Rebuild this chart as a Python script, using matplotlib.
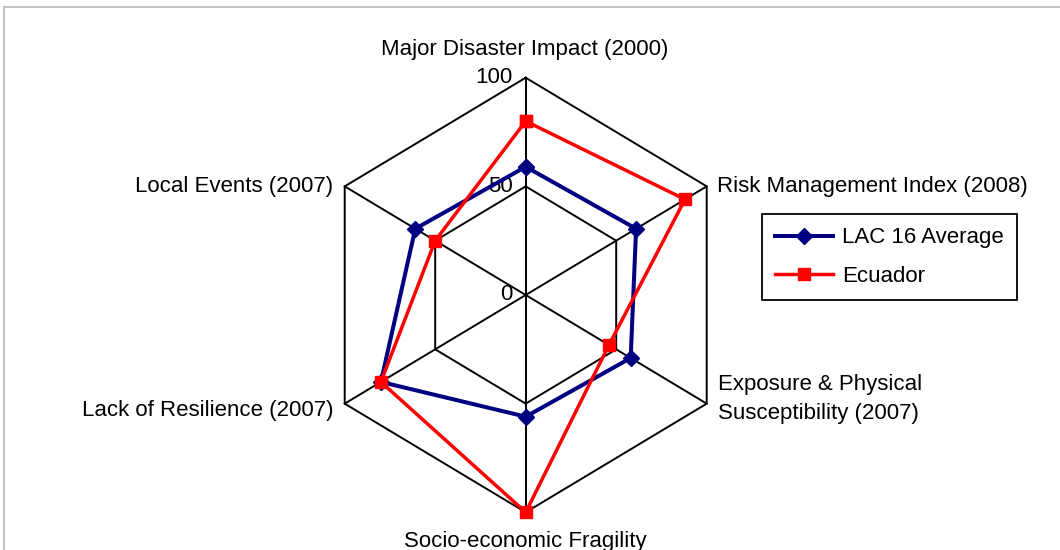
import numpy as np
import matplotlib
matplotlib.use("Agg")
import matplotlib.pyplot as plt
from matplotlib.patches import Rectangle

plt.rcParams['font.family'] = ['Liberation Sans', 'DejaVu Sans']

categories = ["Major Disaster Impact (2000)", "Risk Management Index (2008)",
              "Exposure & Physical\nSusceptibility (2007)", "Socio-economic Fragility",
              "Lack of Resilience (2007)", "Local Events (2007)"]
lac_avg = [59, 61, 58, 56, 80, 61]
ecuador = [80, 88, 46, 100, 80, 50]
ring_levels = [0, 50, 100]
ring_labels = ["0", "50", "100"]
series_names = ["LAC 16 Average", "Ecuador"]

W, H = 1060, 550
fig = plt.figure(figsize=(W / 100, H / 100), dpi=100)
ax = fig.add_axes([0, 0, 1, 1])
ax.set_axis_off()

cx, cy = 525.7, 295.0          # center in pixels (from top)
kx, ky = 2.090, 2.173          # pixels per unit
ax.set_xlim(-cx / kx, (W - cx) / kx)
ax.set_ylim(-(H - cy) / ky, cy / ky)

def px(x, y):
    return (x - cx) / kx, (cy - y) / ky

n = len(categories)
theta = np.arange(n) * 2 * np.pi / n

def to_xy(vals):
    v = np.asarray(vals, dtype=float)
    return v * np.sin(theta), v * np.cos(theta)

# grid
rmax = ring_levels[-1]
for lvl in ring_levels[1:]:
    gx, gy = to_xy([lvl] * n)
    ax.plot(np.append(gx, gx[0]), np.append(gy, gy[0]), color='black', lw=1.4, zorder=1)
for t in theta:
    ax.plot([0, rmax * np.sin(t)], [0, rmax * np.cos(t)], color='black', lw=1.4, zorder=1)

fs = 16
# ring labels
for lvl, lab in zip(ring_levels, ring_labels):
    ax.text(-13 / kx, lvl, lab, ha='right', va='center', fontsize=fs)

# series
bx, by = to_xy(lac_avg)
rx, ry = to_xy(ecuador)
ax.plot(np.append(bx, bx[0]), np.append(by, by[0]), color='#000080', lw=2.9,
        marker='D', markersize=8, label=series_names[0], zorder=3)
ax.plot(np.append(rx, rx[0]), np.append(ry, ry[0]), color='#FF0000', lw=2.5,
        marker='s', markersize=9, label=series_names[1], zorder=4)

# category labels
x, y = px(525, 55); ax.text(x, y, categories[0], ha='center', va='baseline', fontsize=fs)
x, y = px(717, 192); ax.text(x, y, categories[1], ha='left', va='baseline', fontsize=fs)
x, y = px(718, 399); ax.text(x, y, categories[2], ha='left', va='center', fontsize=fs, linespacing=1.47)
x, y = px(525, 547); ax.text(x, y, categories[3], ha='center', va='baseline', fontsize=fs)
x, y = px(333, 416); ax.text(x, y, categories[4], ha='right', va='baseline', fontsize=fs)
x, y = px(333, 192); ax.text(x, y, categories[5], ha='right', va='baseline', fontsize=fs)

leg = ax.legend(loc='upper left', bbox_to_anchor=(762 / W, 1 - 214 / H),
                bbox_transform=fig.transFigure, fontsize=fs, frameon=True,
                fancybox=False, framealpha=1, edgecolor='black',
                handlelength=2.6, handletextpad=0.4, borderpad=0.6,
                labelspacing=0.8, borderaxespad=0)
leg.get_frame().set_linewidth(1.3)

# outer chart border
fig.patches.append(Rectangle((4 / W, -0.1), 1.2, 1 - 7 / H + 0.1, transform=fig.transFigure,
                             fill=False, edgecolor='#b8b8b8', lw=1.2))

fig.savefig("out.png", dpi=100)
